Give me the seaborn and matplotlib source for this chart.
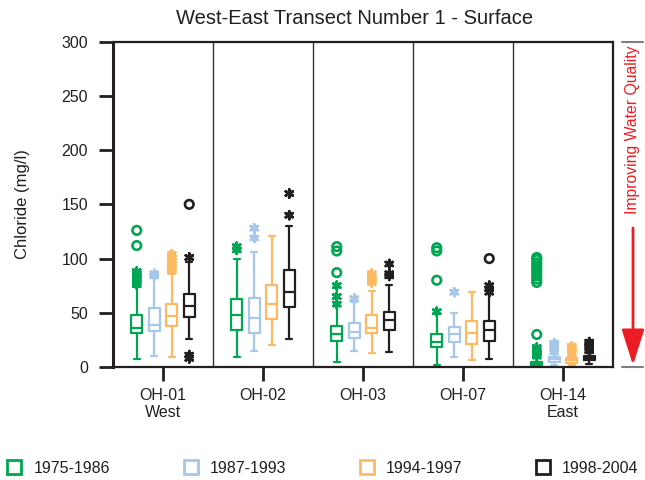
import numpy as np
import pandas as pd
import matplotlib
matplotlib.use("Agg")
import matplotlib.pyplot as plt
import seaborn as sns
from matplotlib.lines import Line2D

# ---------------- data ----------------
stations = ["OH-01\nWest", "OH-02", "OH-03", "OH-07", "OH-14\nEast"]
periods = ["1975-1986", "1987-1993", "1994-1997", "1998-2004"]
colors = ["#00A651", "#A5C8EA", "#FDBA63", "#231F20"]

# box statistics per station: [whisker low, q1, median, q3, whisker high]
stats_1975_1986 = [[7, 31, 36, 48, 74], [9.5, 34, 48, 63, 100], [5, 24, 30, 38, 56],
                   [2, 18, 23.5, 30.5, 49], [0, 2, 3, 5, 8]]
stats_1987_1993 = [[10, 33, 39, 54, 82], [15, 31, 45, 63.5, 106], [15, 27, 32.5, 41, 60],
                   [9, 23, 30, 36.5, 50], [2, 5, 7, 9, 12]]
stats_1994_1997 = [[9.5, 38, 47, 58, 86], [20, 44, 58, 76, 121], [12.5, 31, 36, 48, 70],
                   [6, 21, 31, 42, 69], [2, 4, 6, 8, 10]]
stats_1998_2004 = [[26, 46, 56, 67, 97], [26, 55, 69, 89, 130], [13.5, 34, 43, 51, 76],
                   [7, 24, 34, 42, 72], [3, 6, 8, 10, 13]]

# outside values (asterisks) per station
outside_1975_1986 = [[76, 78, 80, 82, 84, 86, 88], [108, 111], [58, 65, 75], [51], [10, 12, 14, 16, 18]]
outside_1987_1993 = [[84, 86], [119, 128], [63], [69], [14, 17, 20, 22]]
outside_1994_1997 = [[89, 91, 93, 95, 98, 101, 104], [], [78, 80, 82, 84, 86], [], [12, 15, 17, 19]]
outside_1998_2004 = [[101, 8, 11], [140, 160], [84, 86, 95], [69, 72, 75], [15, 17, 19, 21, 23]]

# far-out values (circles) per station
farout_1975_1986 = [[112, 126], [], [87, 107, 111], [80, 107, 110],
                    [30, 78, 81, 84, 87, 90, 93, 96, 99, 101]]
farout_1987_1993 = [[], [], [], [], []]
farout_1994_1997 = [[], [], [], [], []]
farout_1998_2004 = [[150], [], [], [100], []]

all_stats = [stats_1975_1986, stats_1987_1993, stats_1994_1997, stats_1998_2004]
all_outside = [outside_1975_1986, outside_1987_1993, outside_1994_1997, outside_1998_2004]
all_farout = [farout_1975_1986, farout_1987_1993, farout_1994_1997, farout_1998_2004]

# ---------------- tables ----------------
box_rows = []
for p, per in enumerate(periods):
    for s, st in enumerate(stations):
        for v in all_stats[p][s]:
            box_rows.append({"station": st, "period": per, "value": v})
box_df = pd.DataFrame(box_rows)

width = 0.7
offsets = (np.arange(len(periods)) - (len(periods) - 1) / 2) * width / len(periods)

def outlier_frame(table):
    rows = []
    for p, per in enumerate(periods):
        for s in range(len(stations)):
            for v in table[p][s]:
                rows.append({"x": s + offsets[p], "y": v, "period": per})
    return pd.DataFrame(rows)

out_df = outlier_frame(all_outside)
far_df = outlier_frame(all_farout)

# ---------------- style ----------------
sns.set_theme(style="ticks")
plt.rcParams["font.family"] = ["Liberation Sans", "DejaVu Sans"]
txt = "#231F20"

fig, ax = plt.subplots(figsize=(6.45, 4.8), dpi=100)
fig.subplots_adjust(left=113 / 645, right=613 / 645, top=1 - 41.7 / 480, bottom=1 - 367 / 480)

sns.boxplot(data=box_df, x="station", y="value", hue="period", order=stations,
            hue_order=periods, palette=colors, fill=False, whis=(0, 100),
            width=width, gap=0.37, linewidth=1.6, showfliers=False,
            legend=False, ax=ax)

sns.scatterplot(data=out_df, x="x", y="y", hue="period", hue_order=periods,
                palette=colors, marker=(6, 2, 0), s=34, linewidth=1.9,
                legend=False, ax=ax, zorder=5)
sns.scatterplot(data=far_df, x="x", y="y", hue="period", hue_order=periods,
                palette=colors, marker="o", s=38, linewidth=1.9,
                legend=False, ax=ax, zorder=5)
coll = ax.collections[-1]
fcs = coll.get_facecolors()
coll.set_edgecolor(fcs)
coll.set_facecolor("none")

for xs in [0.5, 1.5, 2.5, 3.5]:
    ax.axvline(xs, color="#333333", lw=1.0, zorder=0)

ax.set_xlim(-0.5, 4.5)
ax.set_ylim(0, 300)
ax.set_yticks(np.arange(0, 301, 50))
ax.set_xticks(range(len(stations)))
ax.set_xticklabels(stations)
ax.set_xlabel("")
ax.set_ylabel("")
for sp in ax.spines.values():
    sp.set_visible(True)
    sp.set_color(txt)
    sp.set_linewidth(1.6)
ax.spines["left"].set_linewidth(2.2)
ax.tick_params(axis="y", direction="out", length=10, width=2, pad=8,
               labelsize=11.5, colors=txt)
ax.tick_params(axis="x", direction="out", length=10, width=2, pad=5,
               labelsize=11.5, colors=txt)

fig.text(355 / 645, 1 - 18 / 480, "West-East Transect Number 1 - Surface",
         ha="center", va="center", fontsize=14.5, color=txt)
fig.text(23 / 645, 1 - 204 / 480, "Chloride (mg/l)", rotation=90,
         ha="center", va="center", fontsize=12, color=txt)

# right-hand annotation
red = "#ED1C24"
fig.text(633 / 645, 1 - 46 / 480, "Improving Water Quality", rotation=90,
         ha="center", va="top", fontsize=11.3, color=red)
ax.annotate("", xy=(633 / 645, 1 - 365 / 480), xytext=(633 / 645, 1 - 228 / 480),
            xycoords="figure fraction", textcoords="figure fraction",
            arrowprops=dict(arrowstyle="-|>,head_length=1.1,head_width=0.35",
                            color=red, lw=2, mutation_scale=20, shrinkA=0, shrinkB=0))
for yy in [41.7, 367]:
    fig.add_artist(Line2D([622 / 645, 643 / 645], [1 - yy / 480, 1 - yy / 480],
                          color="#7F7F7F", lw=1.5, transform=fig.transFigure))

handles = [Line2D([], [], marker="s", linestyle="none", markerfacecolor="none",
                  markeredgecolor=c, markersize=10, markeredgewidth=2) for c in colors]
fig.legend(handles, periods, loc="center", ncol=4, mode="expand",
           bbox_to_anchor=(0.0, 1 - 478 / 480, 1.0, 0.04), frameon=False,
           fontsize=11.5, handletextpad=0.7, handlelength=1.0, borderaxespad=0,
           labelcolor=txt)

fig.savefig("out.png", dpi=100)
